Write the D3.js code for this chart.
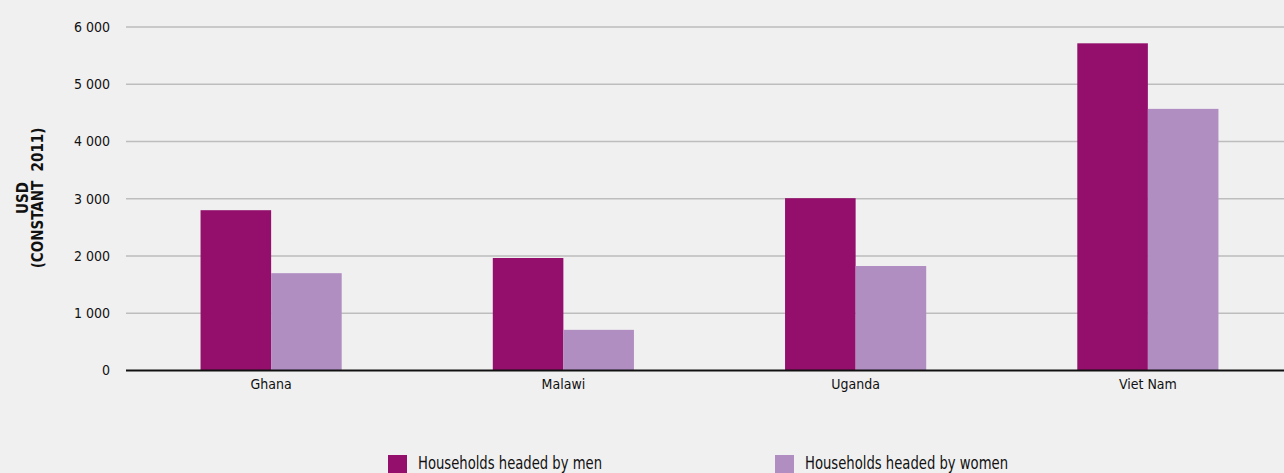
<!DOCTYPE html>
<html lang="en">
<head>
<meta charset="UTF-8">
<title>Households income</title>
<script src="https://d3js.org/d3.v7.min.js"></script>
<style>
  body { margin: 0; background: #f0f0f0; }
  svg { display: block; font-family: "DejaVu Sans Condensed", "DejaVu Sans", sans-serif; font-stretch: condensed; }
</style>
</head>
<body>
<div id="chart"></div>
<script>
    var countries = ["Ghana", "Malawi", "Uganda", "Viet Nam"];
    var series = ["Households headed by men", "Households headed by women"];
    var men = [2800, 1965, 3010, 5715];
    var women = [1700, 710, 1825, 4570];
    var yTicks = [0, 1000, 2000, 3000, 4000, 5000, 6000];
    var colors = ["#930f6b", "#b18ec2"];

    var w = 1284, h = 473;
    var font = '"DejaVu Sans Condensed", "DejaVu Sans", sans-serif';

    var svg = d3.select("#chart")
                .append("svg")
                .attr("width", w)
                .attr("height", h);

    svg.append("rect").attr("width", w).attr("height", h).attr("fill", "#f0f0f0");

    var y = d3.scaleLinear().domain([0, 6000]).range([370.5, 27]);
    var x = d3.scaleBand().domain(countries).range([125, 1294])
              .paddingInner(0.517).paddingOuter(0.2585);
    var x1 = d3.scaleBand().domain([0, 1]).range([0, x.bandwidth()]);

    // grid
    svg.append("g")
       .selectAll("line")
       .data(yTicks.slice(1))
       .enter()
       .append("line")
       .attr("x1", 126).attr("x2", w)
       .attr("y1", function(d) { return y(d); })
       .attr("y2", function(d) { return y(d); })
       .attr("stroke", "#bdbdbd")
       .attr("stroke-width", 1.3);

    // y labels
    var yAxis = svg.append("g")
       .attr("transform", "translate(110,0)")
       .call(d3.axisLeft(y).tickValues(yTicks).tickSize(0).tickPadding(0)
             .tickFormat(function(d) { return d3.format(",")(d).replace(",", " "); }));
    yAxis.select(".domain").remove();
    yAxis.attr("font-family", font);
    yAxis.selectAll("text").attr("font-size", 14).attr("fill", "#111");

    // bars
    var rows = countries.map(function(c, i) { return [men[i], women[i]]; });
    var groups = svg.selectAll("g.grp")
        .data(rows)
        .enter()
        .append("g")
        .attr("class", "grp")
        .attr("transform", function(d, i) { return "translate(" + x(countries[i]) + ",0)"; });

    groups.selectAll("rect")
        .data(function(d) { return d; })
        .enter()
        .append("rect")
        .attr("x", function(d, i) { return x1(i); })
        .attr("width", x1.bandwidth())
        .attr("y", function(d) { return y(d); })
        .attr("height", function(d) { return y(0) - y(d); })
        .attr("fill", function(d, i) { return colors[i]; });

    // zero line
    svg.append("line")
       .attr("x1", 126).attr("x2", w)
       .attr("y1", y(0)).attr("y2", y(0))
       .attr("stroke", "#111").attr("stroke-width", 2);

    // x labels
    var xAxis = svg.append("g")
       .attr("transform", "translate(0," + (y(0) + 9) + ")")
       .call(d3.axisBottom(x).tickSize(0).tickPadding(0));
    xAxis.select(".domain").remove();
    xAxis.attr("font-family", font);
    xAxis.selectAll("text").attr("font-size", 14).attr("fill", "#111");

    // y title
    var title = svg.append("text")
       .attr("transform", "translate(29,198) rotate(-90)")
       .attr("text-anchor", "middle")
       .attr("font-weight", "bold")
       .attr("font-size", 15)
       .attr("fill", "#111");
    title.append("tspan").attr("x", 0).attr("dy", "-0.1em").text("USD");
    title.append("tspan").attr("x", 0).attr("dy", "1.05em").text("(CONSTANT\u00a0\u00a02011)");

    // legend
    var legX = [388, 775];
    var legLen = [184, 203];
    var leg = svg.selectAll("g.leg")
        .data(series)
        .enter()
        .append("g")
        .attr("class", "leg")
        .attr("transform", function(d, i) { return "translate(" + legX[i] + ",455)"; });
    leg.append("rect").attr("width", 19).attr("height", 19)
       .attr("fill", function(d, i) { return colors[i]; });
    leg.append("text").attr("x", 30).attr("y", 14)
       .attr("font-size", 18).attr("fill", "#111")
       .attr("textLength", function(d, i) { return legLen[i]; })
       .attr("lengthAdjust", "spacingAndGlyphs")
       .text(function(d) { return d; });
</script>
</body>
</html>
